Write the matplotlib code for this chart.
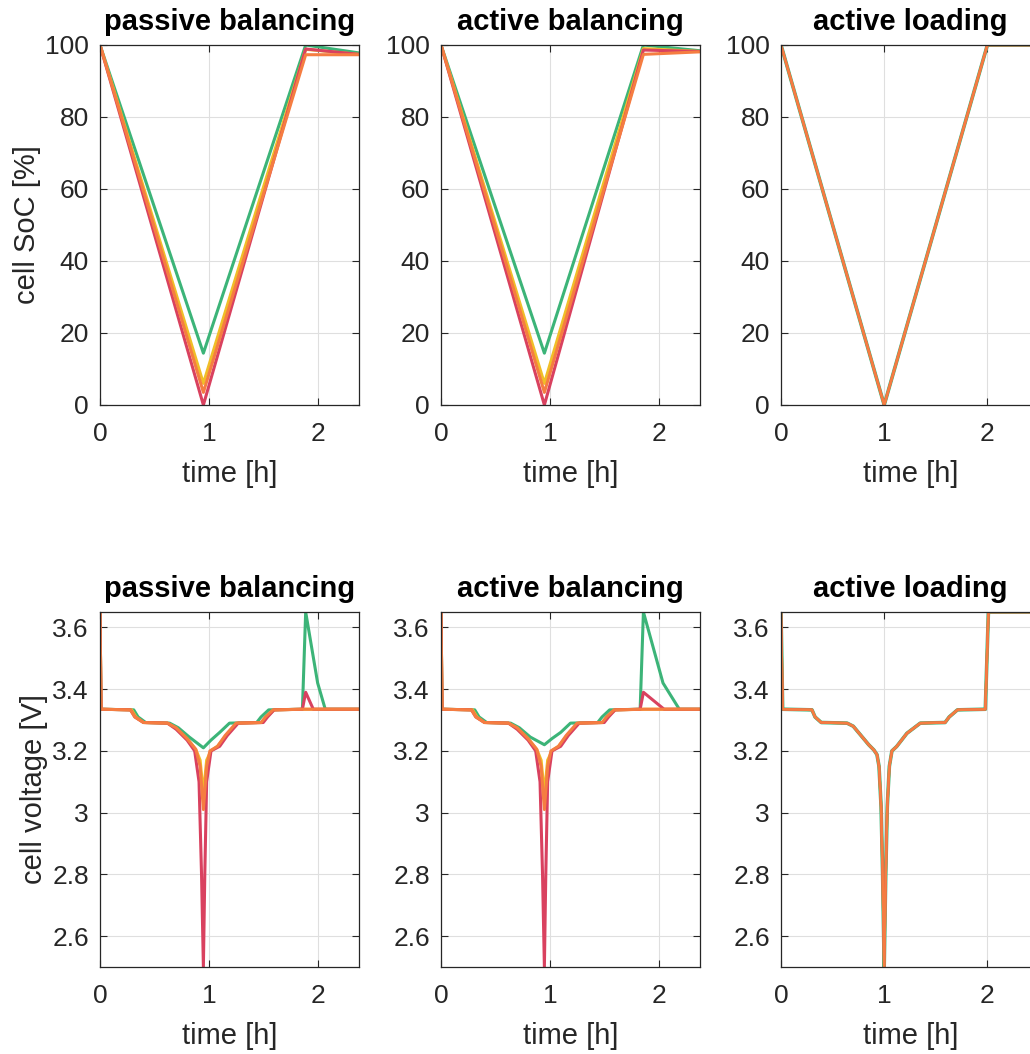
import matplotlib.pyplot as plt

# ---- data ----
cell_colors = ["#3CB478", "#F0BE28", "#D9415F", "#F57D41"]  # green, yellow, red, orange

titles = ["passive balancing", "active balancing", "active loading"]
x_max = [2.38, 2.38, 2.51]

# SoC [%]
soc_t_pb = [0, 0.95, 1.89, 2.38]
soc_pb = [
    [100, 14.4, 100.0, 97.8],
    [100, 6.0, 98.8, 97.4],
    [100, 0.0, 98.9, 97.4],
    [100, 3.5, 97.3, 97.3],
]
soc_t_ab = [0, 0.95, 1.86, 2.38]
soc_ab = [
    [100, 14.4, 100.0, 98.4],
    [100, 6.0, 99.0, 98.2],
    [100, 0.0, 98.6, 98.2],
    [100, 3.5, 97.4, 98.1],
]
soc_t_al = [0, 1, 2, 2.51]
soc_al = [100, 0, 100, 100]

# cell voltage [V], passive balancing
v_pb_green_t = [0, 0.01, 0.31, 0.35, 0.42, 0.64, 0.72, 0.82, 0.95, 1.02, 1.10, 1.19, 1.44, 1.48, 1.55, 1.86, 1.89, 2.00, 2.07, 2.38]
v_pb_green = [3.65, 3.335, 3.333, 3.31, 3.292, 3.29, 3.275, 3.245, 3.21, 3.235, 3.26, 3.29, 3.292, 3.31, 3.333, 3.335, 3.65, 3.42, 3.335, 3.335]
v_pb_yellow_t = [0, 0.01, 0.29, 0.33, 0.40, 0.62, 0.70, 0.80, 0.88, 0.92, 0.95, 0.98, 1.02, 1.08, 1.16, 1.26, 1.49, 1.53, 1.60, 1.87, 2.38]
v_pb_yellow = [3.65, 3.335, 3.333, 3.31, 3.292, 3.29, 3.273, 3.24, 3.205, 3.17, 3.06, 3.17, 3.2, 3.215, 3.25, 3.29, 3.292, 3.31, 3.333, 3.335, 3.335]
v_pb_red_t = [0, 0.01, 0.28, 0.32, 0.40, 0.62, 0.70, 0.80, 0.87, 0.91, 0.933, 0.95, 0.963, 0.98, 1.02, 1.10, 1.17, 1.27, 1.50, 1.54, 1.60, 1.86, 1.89, 1.96, 2.38]
v_pb_red = [3.65, 3.335, 3.333, 3.31, 3.292, 3.29, 3.27, 3.235, 3.2, 3.1, 2.8, 2.5, 2.8, 3.1, 3.2, 3.215, 3.25, 3.29, 3.292, 3.31, 3.333, 3.335, 3.39, 3.335, 3.335]
v_pb_orange_t = [0, 0.01, 0.28, 0.32, 0.40, 0.62, 0.70, 0.80, 0.88, 0.92, 0.95, 0.98, 1.01, 1.08, 1.15, 1.25, 1.48, 1.52, 1.59, 1.87, 2.38]
v_pb_orange = [3.65, 3.335, 3.333, 3.31, 3.292, 3.29, 3.275, 3.24, 3.205, 3.15, 3.01, 3.15, 3.2, 3.215, 3.25, 3.29, 3.292, 3.31, 3.333, 3.335, 3.335]

# cell voltage [V], active balancing (only the end spikes differ)
v_ab_green_t = [0, 0.01, 0.31, 0.35, 0.42, 0.64, 0.72, 0.82, 0.95, 1.02, 1.10, 1.19, 1.44, 1.48, 1.55, 1.83, 1.86, 2.04, 2.19, 2.38]
v_ab_green = [3.65, 3.335, 3.333, 3.31, 3.292, 3.29, 3.275, 3.245, 3.22, 3.24, 3.26, 3.29, 3.292, 3.31, 3.333, 3.335, 3.65, 3.42, 3.335, 3.335]
v_ab_red_t = [0, 0.01, 0.28, 0.32, 0.40, 0.62, 0.70, 0.80, 0.87, 0.91, 0.933, 0.95, 0.963, 0.98, 1.02, 1.10, 1.17, 1.27, 1.50, 1.54, 1.60, 1.83, 1.86, 2.05, 2.38]
v_ab_red = [3.65, 3.335, 3.333, 3.31, 3.292, 3.29, 3.27, 3.235, 3.2, 3.1, 2.8, 2.5, 2.8, 3.1, 3.2, 3.215, 3.25, 3.29, 3.292, 3.31, 3.333, 3.335, 3.39, 3.335, 3.335]

# cell voltage [V], active loading (all cells identical)
v_al_t = [0, 0.016, 0.30, 0.33, 0.39, 0.64, 0.70, 0.77, 0.85, 0.90, 0.93, 0.95, 0.97, 0.985, 1.0, 1.015, 1.03, 1.05, 1.075, 1.12, 1.22, 1.35, 1.59, 1.63, 1.71, 1.98, 2.01, 2.51]
v_al = [3.65, 3.335, 3.333, 3.31, 3.292, 3.29, 3.28, 3.252, 3.22, 3.203, 3.188, 3.15, 3.02, 2.8, 2.5, 2.8, 3.02, 3.15, 3.2, 3.214, 3.257, 3.29, 3.292, 3.31, 3.333, 3.335, 3.65, 3.65]

plt.rcParams["font.family"] = ["Liberation Sans", "DejaVu Sans"]
text_col = "#262626"

fig = plt.figure(figsize=(10.3, 10.54), dpi=100)
W, H = 1030, 1054
lefts = [100, 441, 781]
ax_w = 259
rows = [(45, 405), (612, 967)]

axes = []
for r, (top, bot) in enumerate(rows):
    row = []
    for c, lx in enumerate(lefts):
        ax = fig.add_axes([lx / W, 1 - bot / H, ax_w / W, (bot - top) / H])
        row.append(ax)
    axes.append(row)

lw = 2.2

# top row: SoC
for i, col in enumerate(cell_colors):
    axes[0][0].plot(soc_t_pb, soc_pb[i], color=col, lw=lw)
    axes[0][1].plot(soc_t_ab, soc_ab[i], color=col, lw=lw)
for i, col in enumerate(cell_colors):
    axes[0][2].plot(soc_t_al, soc_al, color=col, lw=2.6 if i == 0 else 1.8)

# bottom row: voltage
pb = [(v_pb_green_t, v_pb_green), (v_pb_yellow_t, v_pb_yellow),
      (v_pb_red_t, v_pb_red), (v_pb_orange_t, v_pb_orange)]
ab = [(v_ab_green_t, v_ab_green), (v_pb_yellow_t, v_pb_yellow),
      (v_ab_red_t, v_ab_red), (v_pb_orange_t, v_pb_orange)]
for i, col in enumerate(cell_colors):
    axes[1][0].plot(pb[i][0], pb[i][1], color=col, lw=lw)
    axes[1][1].plot(ab[i][0], ab[i][1], color=col, lw=lw)
    axes[1][2].plot(v_al_t, v_al, color=col, lw=2.6 if i == 0 else 1.8)

for r in range(2):
    for c in range(3):
        ax = axes[r][c]
        ax.set_xlim(0, x_max[c])
        ax.set_xticks([0, 1, 2])
        if r == 0:
            ax.set_ylim(0, 100)
            ax.set_yticks([0, 20, 40, 60, 80, 100])
        else:
            ax.set_ylim(2.5, 3.65)
            ax.set_yticks([2.6, 2.8, 3.0, 3.2, 3.4, 3.6])
            ax.set_yticklabels(["2.6", "2.8", "3", "3.2", "3.4", "3.6"])
        ax.grid(True, color="#DFDFDF", lw=0.8)
        ax.set_axisbelow(True)
        ax.tick_params(direction="in", length=5, width=0.8, top=True, right=True,
                       labelsize=19, colors=text_col, pad=8)
        ax.tick_params(axis="x", pad=12)
        for s in ax.spines.values():
            s.set_color(text_col)
            s.set_linewidth(0.9)
        ax.set_title(titles[c], fontsize=21, fontweight="bold", color="black", pad=11)
        ax.set_xlabel("time [h]", fontsize=21, color=text_col, labelpad=10)

axes[0][0].set_ylabel("cell SoC [%]", fontsize=21, color=text_col)
axes[0][0].yaxis.set_label_coords(-0.228, 0.5)
axes[1][0].set_ylabel("cell voltage [V]", fontsize=21, color=text_col)
axes[1][0].yaxis.set_label_coords(-0.20, 0.5)

fig.savefig("out.png", dpi=100)
